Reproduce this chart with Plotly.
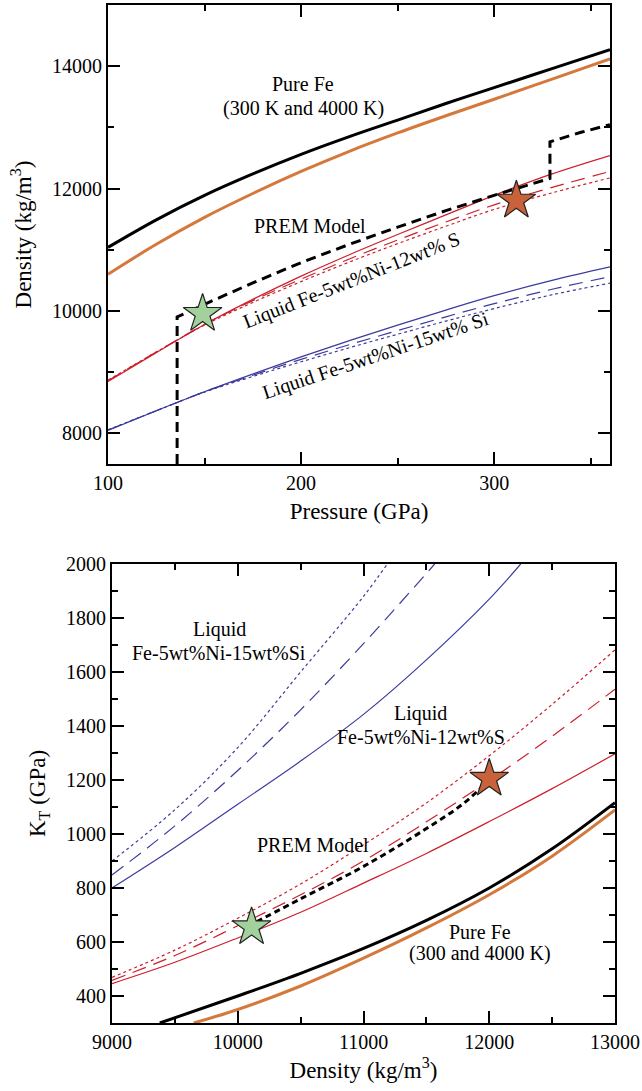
import plotly.graph_objects as go

# ---------------- Top panel data: Density vs Pressure ----------------
P = [100, 125, 150, 175, 200, 225, 250, 275, 300, 330, 360]
rho_fe_300K = [11040, 11490, 11890, 12240, 12560, 12850, 13120, 13390, 13650, 13960, 14270]
rho_fe_4000K = [10600, 11090, 11530, 11920, 12280, 12610, 12910, 13190, 13460, 13790, 14120]
rho_S_solid = [8850, 9320, 9780, 10190, 10570, 10920, 11250, 11570, 11890, 12240, 12540]
rho_S_dash = [8860, 9330, 9780, 10170, 10520, 10850, 11160, 11455, 11735, 12020, 12280]
rho_S_dot = [8870, 9330, 9770, 10140, 10480, 10800, 11100, 11385, 11660, 11930, 12175]
rho_Si_solid = [8050, 8370, 8680, 8970, 9250, 9515, 9770, 10015, 10250, 10500, 10720]
rho_Si_dash = [8055, 8370, 8680, 8950, 9210, 9450, 9680, 9905, 10120, 10355, 10560]
rho_Si_dot = [8060, 8370, 8675, 8930, 9170, 9400, 9620, 9835, 10040, 10265, 10455]

P_prem = [135.8, 135.8, 150, 175, 200, 225, 250, 275, 300, 328.9, 328.9, 345, 360]
rho_prem = [7500, 9903, 10110, 10460, 10790, 11090, 11370, 11640, 11890, 12166, 12764, 12920, 13045]

star_top_P = [149, 311.5]
star_top_rho = [9955, 11805]

# ---------------- Bottom panel data: K_T vs Density ----------------
dens_fe300 = [9380, 10000, 10500, 11000, 11500, 12000, 12500, 13000]
K_fe300 = [300, 400, 484, 576, 680, 800, 945, 1116]
dens_fe4000 = [9650, 10000, 10500, 11000, 11500, 12000, 12500, 13000]
K_fe4000 = [300, 350, 437, 540, 652, 775, 918, 1089]

dens_S = [9000, 9500, 10000, 10500, 11000, 11500, 12000, 12500, 13000]
K_S_solid = [446, 525, 615, 710, 818, 928, 1046, 1168, 1297]
K_S_dash = [458, 550, 660, 775, 900, 1045, 1198, 1362, 1536]
K_S_dot = [469, 570, 688, 815, 960, 1115, 1290, 1480, 1682]

dens_Si_solid = [9000, 9500, 10000, 10500, 11000, 11500, 12000, 12250]
K_Si_solid = [800, 950, 1110, 1270, 1443, 1645, 1870, 2000]
dens_Si_dash = [9000, 9500, 10000, 10500, 11000, 11500, 11566]
K_Si_dash = [848, 1030, 1235, 1460, 1705, 1965, 2000]
dens_Si_dot = [9000, 9500, 10000, 10500, 11000, 11189]
K_Si_dot = [900, 1090, 1320, 1600, 1880, 2000]

dens_prem = [10150, 10500, 11000, 11500, 11800, 12030]
K_prem = [675, 760, 880, 1020, 1115, 1215]

star_bot_rho = [10110, 12000]
star_bot_K = [655, 1205]

# ---------------- Styles ----------------
BLACK = "#000000"
ORANGE = "#d4783c"
RED = "#cc1f2b"
BLUE = "#3b3b9e"
STAR_COLORS = ["#a3d19c", "#c9613a"]
FONT = "Liberation Serif"
THIN = 1.2
DASH = "14px,8px"
DOT = "3px,3px"

fig = go.Figure()


def add(x, y, color, width, dash="solid", xa="x", ya="y", shape="spline"):
    fig.add_trace(go.Scatter(x=x, y=y, mode="lines", xaxis=xa, yaxis=ya,
                             line=dict(color=color, width=width, dash=dash, shape=shape),
                             hoverinfo="skip", showlegend=False))


# Top panel
add(P, rho_Si_dot, BLUE, THIN, DOT)
add(P, rho_Si_dash, BLUE, THIN, DASH)
add(P, rho_Si_solid, BLUE, THIN)
add(P, rho_S_dot, RED, THIN, DOT)
add(P, rho_S_dash, RED, THIN, DASH)
add(P, rho_S_solid, RED, THIN)
add(P, rho_fe_4000K, ORANGE, 3)
add(P, rho_fe_300K, BLACK, 3)
add(P_prem, rho_prem, BLACK, 3, "10px,6px", shape="linear")
fig.add_trace(go.Scatter(x=star_top_P, y=star_top_rho, mode="markers", xaxis="x", yaxis="y",
                         marker=dict(symbol="star", size=29, color=STAR_COLORS,
                                     line=dict(color="#222222", width=1.2)),
                         hoverinfo="skip", showlegend=False))

# Bottom panel
add(dens_Si_dot, K_Si_dot, BLUE, THIN, DOT, "x2", "y2")
add(dens_Si_dash, K_Si_dash, BLUE, THIN, DASH, "x2", "y2")
add(dens_Si_solid, K_Si_solid, BLUE, THIN, "solid", "x2", "y2")
add(dens_S, K_S_dot, RED, THIN, DOT, "x2", "y2")
add(dens_S, K_S_dash, RED, THIN, DASH, "x2", "y2")
add(dens_S, K_S_solid, RED, THIN, "solid", "x2", "y2")
add(dens_fe4000, K_fe4000, ORANGE, 3, "solid", "x2", "y2")
add(dens_fe300, K_fe300, BLACK, 3, "solid", "x2", "y2")
add(dens_prem, K_prem, BLACK, 3, "6px,4px", "x2", "y2")
fig.add_trace(go.Scatter(x=star_bot_rho, y=star_bot_K, mode="markers", xaxis="x2", yaxis="y2",
                         marker=dict(symbol="star", size=29, color=STAR_COLORS,
                                     line=dict(color="#222222", width=1.2)),
                         hoverinfo="skip", showlegend=False))

W, H = 642, 1091
tick_font = dict(family=FONT, size=20, color="black")
title_font = dict(family=FONT, size=23, color="black")


def minor(vals):
    return dict(ticks="inside", ticklen=6, tickwidth=1.5, tickcolor="black", tickvals=vals)


def axis(domain, anchor, rng, tickvals, minor_vals, title, standoff):
    return dict(domain=domain, anchor=anchor, range=rng, tickvals=tickvals,
                tickformat="d", minor=minor(minor_vals),
                showline=True, linecolor="black", linewidth=2, mirror="allticks",
                ticks="inside", ticklen=12, tickwidth=1.5, tickcolor="black",
                showgrid=False, zeroline=False, automargin=False,
                tickfont=tick_font,
                title=dict(text=title, standoff=standoff, font=title_font))


fig.update_layout(
    width=W, height=H, margin=dict(l=0, r=0, t=0, b=0, autoexpand=False),
    paper_bgcolor="white", plot_bgcolor="white",
    font=dict(family=FONT, color="black", size=20),
    xaxis=axis([108 / W, 610 / W], "y", [100, 360], [100, 200, 300], [150, 250, 350],
               "Pressure (GPa)", 10),
    yaxis=axis([1 - 464 / H, 1 - 5 / H], "x", [7500, 15000], [8000, 10000, 12000, 14000],
               [9000, 11000, 13000], "Density (kg/m<sup>3</sup>)", 14),
    xaxis2=axis([112 / W, 615 / W], "y2", [9000, 13000], [9000, 10000, 11000, 12000, 13000],
                [9500, 10500, 11500, 12500], "Density (kg/m<sup>3</sup>)", 10),
    yaxis2=axis([1 - 1023 / H, 1 - 564 / H], "x2", [300, 2000],
                [400, 600, 800, 1000, 1200, 1400, 1600, 1800, 2000],
                [500, 700, 900, 1100, 1300, 1500, 1700, 1900], "K<sub>T</sub> (GPa)", 14),
)

ann_font = dict(family=FONT, size=20, color="black")
annotations = [
    dict(x=201, y=13706, xref="x", yref="y", text="Pure Fe", showarrow=False, font=ann_font),
    dict(x=201, y=13313, xref="x", yref="y", text="(300 K and 4000 K)", showarrow=False, font=ann_font),
    dict(x=204.4, y=11394, xref="x", yref="y", text="PREM Model", showarrow=False, font=ann_font),
    dict(x=226, y=10500, xref="x", yref="y", text="Liquid Fe-5wt%Ni-12wt% S", showarrow=False,
         font=ann_font, textangle=-21.5),
    dict(x=238.8, y=9276, xref="x", yref="y", text="Liquid Fe-5wt%Ni-15wt% Si", showarrow=False,
         font=ann_font, textangle=-18.5),
    dict(x=9851, y=1756, xref="x2", yref="y2", text="Liquid", showarrow=False, font=ann_font),
    dict(x=9851, y=1669, xref="x2", yref="y2", text="Fe-5wt%Ni-15wt%Si", showarrow=False, font=ann_font),
    dict(x=11455, y=1447, xref="x2", yref="y2", text="Liquid", showarrow=False, font=ann_font),
    dict(x=11455, y=1360, xref="x2", yref="y2", text="Fe-5wt%Ni-12wt%S", showarrow=False, font=ann_font),
    dict(x=10601, y=959, xref="x2", yref="y2", text="PREM Model", showarrow=False, font=ann_font),
    dict(x=11926, y=638, xref="x2", yref="y2", text="Pure Fe", showarrow=False, font=ann_font),
    dict(x=11926, y=556, xref="x2", yref="y2", text="(300 and 4000 K)", showarrow=False, font=ann_font),
]
fig.update_layout(annotations=annotations)

fig.write_html("out.html", config={"displayModeBar": False},
               post_script="document.body.style.margin='0';document.body.style.overflow='hidden';")
